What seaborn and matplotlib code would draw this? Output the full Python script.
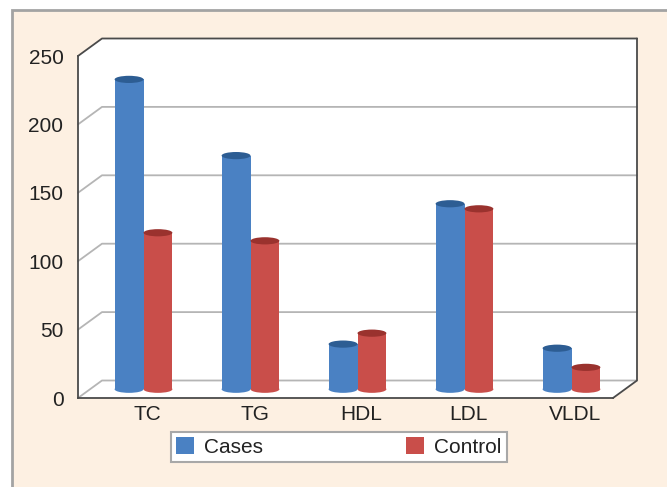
import matplotlib
matplotlib.use("Agg")
import matplotlib.pyplot as plt
from matplotlib.patches import Rectangle, Polygon, Ellipse, Patch
from matplotlib.lines import Line2D
from matplotlib.transforms import ScaledTranslation
import seaborn as sns
import pandas as pd

# Lipid profile means
categories = ["TC", "TG", "HDL", "LDL", "VLDL"]
cases = [226.5, 170.8, 33, 135.6, 30]
control = [114.4, 108.5, 41, 131.9, 16]
groups = ["Cases", "Control"]
y_ticks = [0, 50, 100, 150, 200, 250]

BAR_COLORS = ["#4A81C3", "#C94E4A"]
TOP_COLORS = ["#2D5D93", "#9A322E"]
GRID = "#B5B5B5"
DARK = "#4A4A4A"
TEXT = "#222222"
FS = 15

sns.set_style("white")
plt.rcParams["font.family"] = ["Liberation Sans", "DejaVu Sans"]

df = pd.DataFrame({
    "lipid": categories * 2,
    "value": cases + control,
    "group": [groups[0]] * len(categories) + [groups[1]] * len(categories),
})

W, H, DPI = 667, 487, 100
fig = plt.figure(figsize=(W / DPI, H / DPI), dpi=DPI)
fig.patch.set_facecolor("white")

# beige panel with grey border
fig.add_artist(Rectangle((12 / W, -0.02), 1.0, (H - 10) / H + 0.02,
                         transform=fig.transFigure, facecolor="#FDF0E2",
                         edgecolor="#A3A3A3", linewidth=2, zorder=0))

# front plane of the 3-D box
ax = fig.add_axes([78 / W, (H - 398) / H, 535 / W, 342 / H])
ax.patch.set_visible(False)

sns.barplot(data=df, x="lipid", y="value", hue="group", order=categories,
            hue_order=groups, palette=BAR_COLORS, width=0.54, gap=0,
            saturation=1, legend=False, ax=ax, zorder=3,
            linewidth=0, edgecolor="none")

ax.set_xlim(-0.5, len(categories) - 0.5)
ax.set_ylim(0, 250)
ax.set_xlabel("")
ax.set_ylabel("")

# depth of the box in pixels (back wall relative to front plane)
DEPTH_X, DEPTH_Y = 24, 17.5
px_x = 535 / len(categories)
px_y = 342 / 250
bx, by = DEPTH_X / px_x, DEPTH_Y / px_y  # depth in data units
x0, x1 = -0.5, len(categories) - 0.5

# white interior of the box
box = Polygon([(x0, 250), (x0 + bx, 250 + by), (x1 + bx, 250 + by),
               (x1 + bx, by), (x1, 0), (x0, 0)], closed=True,
              facecolor="white", edgecolor="none", clip_on=False, zorder=0.5)
ax.add_patch(box)

# back-wall gridlines and side-wall diagonals
for v in y_ticks:
    c = DARK if v == y_ticks[-1] else GRID
    ax.add_line(Line2D([x0, x0 + bx, x1 + bx], [v, v + by, v + by],
                       color=c, lw=1.3, clip_on=False, zorder=1))
ax.add_line(Line2D([x1, x1 + bx, x1 + bx], [0, by, 250 + by],
                   color=DARK, lw=1.3, clip_on=False, zorder=1))

# bars sit halfway into the box
mid = ax.transData + ScaledTranslation(DEPTH_X / 2 / DPI, DEPTH_Y / 2 / DPI,
                                       fig.dpi_scale_trans)
ell_h = 7.2 / px_y
for container, body_c, top_c in zip(ax.containers, BAR_COLORS, TOP_COLORS):
    for bar in container:
        bar.set_transform(mid)
        bar.set_clip_on(False)
        bar.set_linewidth(0)
        xc = bar.get_x() + bar.get_width() / 2
        w = bar.get_width()
        h = bar.get_height()
        ax.add_patch(Ellipse((xc, 0), w, ell_h, transform=mid,
                             facecolor=body_c, edgecolor="none",
                             clip_on=False, zorder=2.9))
        ax.add_patch(Ellipse((xc, h), w, ell_h, transform=mid,
                             facecolor=top_c, edgecolor="none",
                             clip_on=False, zorder=3.1))

# axes styling
for s in ["top", "right"]:
    ax.spines[s].set_visible(False)
for s in ["left", "bottom"]:
    ax.spines[s].set_color(DARK)
    ax.spines[s].set_linewidth(1.3)
    ax.spines[s].set_zorder(4)

ax.set_yticks(y_ticks)
ax.set_yticklabels([str(v) for v in y_ticks])
ax.tick_params(axis="y", direction="out", length=6.5, width=1.3,
               color=DARK, pad=4, labelsize=FS, labelcolor=TEXT)

ax.set_xticks(range(len(categories)))
ax.set_xticklabels(categories)
ax.set_xticks([i - 0.5 for i in range(len(categories) + 1)], minor=True)
ax.tick_params(axis="x", which="major", length=0, pad=5,
               labelsize=FS, labelcolor=TEXT)
ax.tick_params(axis="x", which="minor", direction="out", length=7,
               width=1.3, color=DARK)
shift = ScaledTranslation(16 / DPI, 0, fig.dpi_scale_trans)
for lbl in ax.get_xticklabels():
    lbl.set_transform(lbl.get_transform() + shift)

# legend
handles = [Patch(facecolor=c, edgecolor="none", label=g)
           for g, c in zip(groups, BAR_COLORS)]
leg = fig.legend(handles=handles, loc="lower left",
                 bbox_to_anchor=(171 / W, (H - 462) / H, 336 / W, 31 / H),
                 mode="expand", ncol=2, frameon=True, fancybox=False,
                 fontsize=FS, handlelength=0.85, handleheight=0.85,
                 handletextpad=0.5, borderaxespad=0, borderpad=0.25,
                 framealpha=1, facecolor="white")
leg.get_frame().set_edgecolor("#A8A8A8")
leg.get_frame().set_linewidth(1.5)
for t in leg.get_texts():
    t.set_color(TEXT)

fig.savefig("out.png", dpi=DPI)
